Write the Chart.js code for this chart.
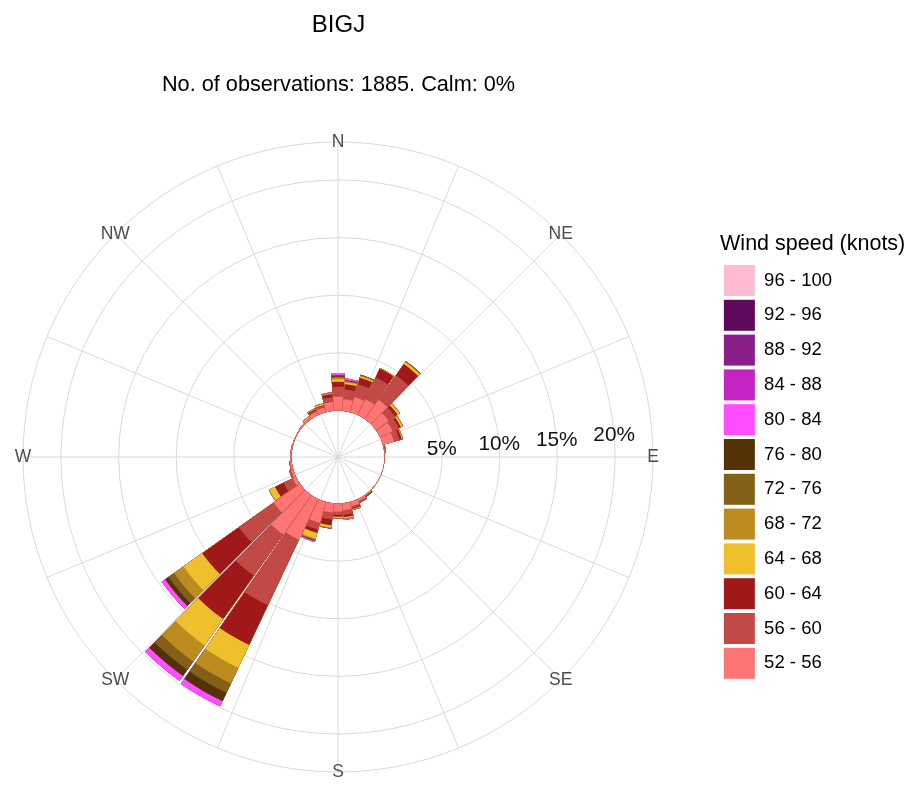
<!DOCTYPE html>
<html>
<head>
<meta charset="utf-8">
<script src="https://cdn.jsdelivr.net/npm/chart.js@4/dist/chart.umd.min.js"></script>
<style>
  html, body { margin: 0; padding: 0; background: #ffffff; overflow: hidden; }
  #wrap { width: 915px; height: 785px; overflow: hidden; position: relative; }
  #rose { display: block; position: absolute; left: -43px; top: 0; }
</style>
</head>
<body>
<div id="wrap"><canvas id="rose" width="958" height="785"></canvas></div>
<script>
// ---------------- data (percent of observations) ----------------
const DIRECTIONS = [360, 10, 20, 30, 40, 50, 60, 70, 80, 90, 100, 110, 120, 130, 140, 150, 160, 170,
                    180, 190, 200, 210, 220, 230, 240, 250, 260, 270, 280, 290, 300, 310, 320, 330, 340, 350];

const SPEED_BINS = ['52 - 56', '56 - 60', '60 - 64', '64 - 68', '68 - 72', '72 - 76',
                    '76 - 80', '80 - 84', '84 - 88', '88 - 92', '92 - 96', '96 - 100'];

const KN_52_56 = [1.2, 1.0, 1.35, 1.5, 2.05, 1.35, 1.2, 1.0, 0.05, 0, 0, 0, 0, 0, 0, 0.2, 0.4, 0.6,
                  0.7, 0.8, 1.9, 3.9, 4.2, 2.8, 0.3, 0.2, 0.15, 0.1, 0.1, 0.05, 0.05, 0.1, 0.15, 0.3, 0.4, 0.75];
const KN_56_60 = [0.85, 0.85, 1.15, 2.1, 2.6, 0.7, 0.6, 0.5, 0.1, 0, 0, 0, 0, 0, 0, 0.1, 0.15, 0.4,
                  0.3, 0.6, 0.6, 6.3, 4.4, 3.7, 0.9, 0.15, 0.05, 0, 0, 0, 0, 0, 0, 0.15, 0.2, 0.4];
const KN_60_64 = [0.45, 0.45, 0.6, 0.85, 1.2, 0.25, 0.2, 0.2, 0, 0, 0, 0, 0, 0, 0, 0.05, 0.1, 0.2,
                  0.15, 0.5, 0.3, 3.8, 4.6, 3.9, 0.8, 0, 0, 0, 0, 0, 0, 0, 0, 0.1, 0.05, 0.3];
const KN_64_68 = [0.2, 0.15, 0.1, 0.05, 0.2, 0.2, 0.15, 0.05, 0, 0, 0, 0, 0, 0, 0.05, 0, 0.05, 0.1,
                  0.1, 0.2, 0.5, 2.2, 2.8, 2.0, 0.55, 0, 0, 0, 0, 0, 0, 0, 0.1, 0.05, 0.1, 0.05];
const KN_68_72 = [0.15, 0.1, 0.1, 0, 0.05, 0.05, 0.05, 0.05, 0, 0, 0, 0, 0, 0, 0.05, 0, 0.05, 0.05,
                  0.05, 0.05, 0.1, 1.5, 1.7, 1.0, 0.05, 0, 0, 0, 0, 0, 0, 0, 0.05, 0.05, 0.05, 0.05];
const KN_72_76 = [0.1, 0.05, 0.05, 0, 0.05, 0, 0, 0, 0, 0, 0, 0, 0, 0, 0.05, 0, 0, 0,
                  0, 0.05, 0.05, 0.9, 0.9, 0.6, 0, 0, 0, 0, 0, 0, 0, 0, 0, 0, 0, 0];
const KN_76_80 = [0.1, 0.05, 0, 0, 0, 0, 0, 0, 0, 0, 0, 0, 0, 0, 0.05, 0, 0, 0,
                  0, 0, 0.05, 0.8, 0.65, 0.35, 0, 0, 0, 0, 0, 0, 0, 0, 0, 0, 0, 0];
const KN_80_84 = [0.2, 0.15, 0, 0, 0, 0, 0, 0, 0, 0, 0, 0, 0, 0, 0, 0, 0, 0.1,
                  0, 0, 0.1, 0.5, 0.5, 0.35, 0, 0, 0, 0, 0, 0, 0, 0, 0, 0, 0, 0.05];
const KN_84_88 = [0, 0, 0, 0, 0, 0, 0, 0, 0, 0, 0, 0, 0, 0, 0, 0, 0, 0,
                  0, 0, 0, 0, 0, 0, 0, 0, 0, 0, 0, 0, 0, 0, 0, 0, 0, 0];
const KN_88_92 = [0, 0, 0, 0, 0, 0, 0, 0, 0, 0, 0, 0, 0, 0, 0, 0, 0, 0,
                  0, 0, 0, 0, 0, 0, 0, 0, 0, 0, 0, 0, 0, 0, 0, 0, 0, 0];
const KN_92_96 = [0, 0, 0, 0, 0, 0, 0, 0, 0, 0, 0, 0, 0, 0, 0, 0, 0, 0,
                  0, 0, 0, 0, 0, 0, 0, 0, 0, 0, 0, 0, 0, 0, 0, 0, 0, 0];
const KN_96_100 = [0, 0, 0, 0, 0, 0, 0, 0, 0, 0, 0, 0, 0, 0, 0, 0, 0, 0,
                   0, 0, 0, 0, 0, 0, 0, 0, 0, 0, 0, 0, 0, 0, 0, 0, 0, 0];

const SERIES = [KN_52_56, KN_56_60, KN_60_64, KN_64_68, KN_68_72, KN_72_76,
                KN_76_80, KN_80_84, KN_84_88, KN_88_92, KN_92_96, KN_96_100];

const RING_TICKS = [0, 5, 10, 15, 20];
const RING_LABELS = ['', '5%', '10%', '15%', '20%'];
const COMPASS_LABELS = ['N', 'NE', 'E', 'SE', 'S', 'SW', 'W', 'NW'];
const COMPASS_DEGREES = [0, 45, 90, 135, 180, 225, 270, 315];
const SPOKE_DEGREES = [0, 22.5, 45, 67.5, 90, 112.5, 135, 157.5, 180, 202.5, 225, 247.5, 270, 292.5, 315, 337.5];

// ---------------- styles ----------------
const BIN_COLORS = ['#FF7474', '#C24A46', '#A11818', '#EFBF2E', '#BC8C20', '#845F17',
                    '#543208', '#FF4DFF', '#C424C4', '#8A1D8A', '#5E095E', '#FFBBD4'];
const AXIS_MIN = -4.04;        // radius offset (calm circle)
const AXIS_MAX = 23.3;         // outer circle
const SECTOR = 10;             // degrees per direction bin
const GAP = 0.6;               // white gap between sectors, degrees
const LABEL_AZIMUTH = 85.5;    // where the % labels sit
const STEP = 2.5;              // angular resolution of the scale
const FONT = "'Liberation Sans', Arial, Helvetica, sans-serif";
const GRID = '#D9D9D9';

// ---------------- build library table ----------------
const cumulative = SERIES.map((_, i) =>
  DIRECTIONS.map((__, d) => SERIES.slice(0, i + 1).reduce((s, arr) => s + arr[d], 0)));

function interleave(values) {
  const out = [0];
  values.forEach(v => { out.push(v); out.push(0); });
  return out;
}
const ANGLES = [GAP / 2];
DIRECTIONS.forEach((_, d) => { ANGLES.push(SECTOR - GAP); ANGLES.push(d === DIRECTIONS.length - 1 ? GAP / 2 : GAP); });

const START = -SECTOR / 2;
const NLAB = Math.round(360 / STEP);
const SCALE_LABELS = Array.from({length: NLAB}, (_, i) => String(START + i * STEP));
const spokeSet = new Set(SPOKE_DEGREES.map(a => Math.round((a - START) / STEP) % NLAB));

const datasets = SERIES.map((_, i) => ({
  label: SPEED_BINS[i],
  data: interleave(cumulative[i]),
  backgroundColor: BIN_COLORS[i],
  borderWidth: 0,
  angle: ctx => ANGLES[ctx.dataIndex]
}));

Chart.defaults.font.family = FONT;
Chart.defaults.color = '#000';

const innerClip = {
  id: 'innerClip',
  beforeDatasetsDraw(chart) {
    const s = chart.scales.r, ctx = chart.ctx;
    ctx.save();
    ctx.beginPath();
    ctx.rect(0, 0, chart.width, chart.height);
    ctx.arc(s.xCenter, s.yCenter, s.getDistanceFromCenterForValue(0), 0, Math.PI * 2);
    ctx.clip('evenodd');
  },
  afterDatasetsDraw(chart) { chart.ctx.restore(); }
};

// let the legend title run past the legend's item column
const legendRoom = {
  id: 'legendRoom',
  afterLayout(chart) {
    const lg = chart.legend;
    if (lg) { lg.right = chart.width; lg.width = lg.right - lg.left; }
  }
};

const axisText = {
  id: 'axisText',
  afterDraw(chart) {
    const s = chart.scales.r, ctx = chart.ctx;
    ctx.save();
    ctx.textAlign = 'center';
    ctx.textBaseline = 'middle';
    ctx.font = '17.5px ' + FONT;
    ctx.fillStyle = '#4D4D4D';
    const rOut = s.getDistanceFromCenterForValue(s.max);
    COMPASS_LABELS.forEach((t, i) => {
      const a = COMPASS_DEGREES[i] * Math.PI / 180;
      ctx.fillText(t, s.xCenter + rOut * Math.sin(a), s.yCenter - rOut * Math.cos(a));
    });
    ctx.font = '20.8px ' + FONT;
    ctx.fillStyle = '#111';
    const la = LABEL_AZIMUTH * Math.PI / 180;
    RING_TICKS.forEach((v, i) => {
      if (!RING_LABELS[i]) return;
      const r = s.getDistanceFromCenterForValue(v);
      ctx.fillText(RING_LABELS[i], s.xCenter + r * Math.sin(la), s.yCenter - r * Math.cos(la));
    });
    ctx.restore();
  }
};

new Chart(document.getElementById('rose'), {
  type: 'polarArea',
  data: { labels: SCALE_LABELS, datasets },
  plugins: [innerClip, legendRoom, axisText],
  options: {
    responsive: false,
    animation: false,
    events: [],
    layout: { padding: { left: 0, right: 73, top: 0, bottom: 13 } },
    scales: {
      r: {
        type: 'radialLinear',
        min: AXIS_MIN,
        max: AXIS_MAX,
        startAngle: START,
        afterBuildTicks: sc => { sc.ticks = RING_TICKS.concat([AXIS_MAX]).map(v => ({ value: v })); },
        ticks: { display: false },
        pointLabels: { display: false },
        grid: { display: true, circular: true, color: GRID, lineWidth: 1 },
        angleLines: {
          display: true,
          color: GRID,
          lineWidth: ctx => (spokeSet.has(ctx.index) ? 1 : 0)
        }
      }
    },
    plugins: {
      tooltip: { enabled: false },
      title: {
        display: true, text: 'BIGJ', fullSize: false, color: '#000',
        font: { size: 24, weight: 'normal' }, padding: { top: 11, bottom: 0 }
      },
      subtitle: {
        display: true, text: 'No. of observations: 1885. Calm: 0%', fullSize: false, color: '#000',
        font: { size: 21.7, weight: 'normal' }, padding: { top: 32.2, bottom: 43.96 }
      },
      legend: {
        display: true,
        position: 'right',
        fullSize: false,
        align: 'center',
        title: { display: true, text: 'Wind speed (knots)', position: 'start', color: '#000',
                 font: { size: 21.5 }, padding: 2 },
        labels: {
          boxWidth: 31, boxHeight: 31, padding: 3.8, color: '#1a1a1a', font: { size: 18.5 },
          generateLabels: () => SPEED_BINS.map((b, i) => ({
            text: b, fillStyle: BIN_COLORS[i], strokeStyle: BIN_COLORS[i], lineWidth: 0,
            hidden: false, datasetIndex: i
          })).reverse()
        }
      }
    }
  }
});
</script>
</body>
</html>
